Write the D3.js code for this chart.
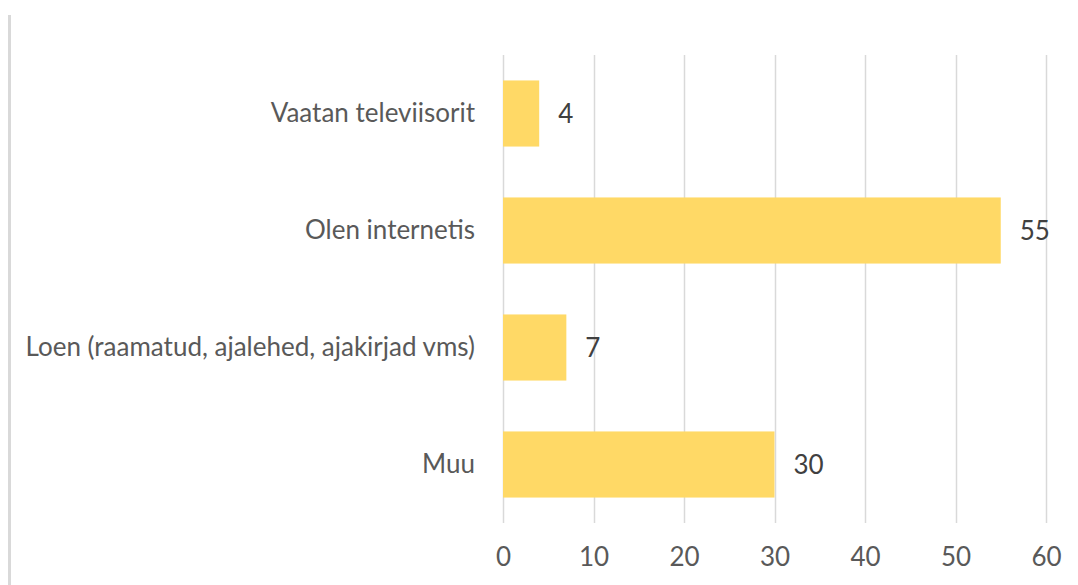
<!DOCTYPE html>
<html>
<head>
<meta charset="utf-8">
<script src="https://cdn.jsdelivr.net/npm/d3@7"></script>
<style>
  body { margin: 0; background: #fff; }
  svg { display: block; font-family: Lato, sans-serif; }
</style>
</head>
<body>
<svg id="chart"></svg>
<script>
const categories = ["Vaatan televiisorit", "Olen internetis", "Loen (raamatud, ajalehed, ajakirjad vms)", "Muu"];
const values = [4, 55, 7, 30];
const xTicks = [0, 10, 20, 30, 40, 50, 60];

const w = 1078, h = 585;
const margin = { top: 55, right: 32, bottom: 62, left: 503 };
const fontSize = "26px";

const svg = d3.select("#chart")
    .attr("width", w)
    .attr("height", h);

// left frame line
svg.append("line")
    .attr("x1", 9.5).attr("x2", 9.5)
    .attr("y1", 15).attr("y2", h)
    .attr("stroke", "#d9d9d9")
    .attr("stroke-width", 3);

const xScale = d3.scaleLinear()
    .domain([0, 60])
    .range([margin.left, w - margin.right]);

const yScale = d3.scaleBand()
    .domain(categories)
    .range([margin.top, h - margin.bottom])
    .paddingInner(0.435)
    .paddingOuter(0.2175);

// gridlines
svg.append("g")
    .selectAll("line")
    .data(xTicks)
    .join("line")
        .attr("x1", d => Math.round(xScale(d)) + 0.5)
        .attr("x2", d => Math.round(xScale(d)) + 0.5)
        .attr("y1", margin.top)
        .attr("y2", h - margin.bottom)
        .attr("stroke", "#d9d9d9")
        .attr("stroke-width", 1.5);

// bars
svg.append("g")
    .selectAll("rect")
    .data(values)
    .join("rect")
        .attr("x", xScale(0))
        .attr("y", (d, i) => yScale(categories[i]))
        .attr("width", d => xScale(d) - xScale(0))
        .attr("height", yScale.bandwidth())
        .attr("fill", "#ffd966");

// value labels
svg.append("g")
    .selectAll("text")
    .data(values)
    .join("text")
        .attr("x", d => xScale(d) + 19)
        .attr("y", (d, i) => yScale(categories[i]) + yScale.bandwidth() / 2)
        .attr("dy", "0.35em")
        .attr("fill", "#404040")
        .style("font-size", fontSize)
        .text(d => d);

// x axis
const xAxis = d3.axisBottom(xScale)
    .tickValues(xTicks)
    .tickSize(0)
    .tickPadding(25);

svg.append("g")
    .attr("transform", `translate(0, ${h - margin.bottom})`)
    .call(xAxis)
    .call(g => g.select(".domain").remove())
    .call(g => g.selectAll("text")
        .attr("fill", "#595959")
        .style("font-size", fontSize)
        .style("font-family", "Lato, sans-serif"));

// y axis
const yAxis = d3.axisLeft(yScale)
    .tickSize(0)
    .tickPadding(28);

svg.append("g")
    .attr("transform", `translate(${margin.left}, 0)`)
    .call(yAxis)
    .call(g => g.select(".domain").remove())
    .call(g => g.selectAll("text")
        .attr("fill", "#595959")
        .style("font-size", fontSize)
        .style("font-family", "Lato, sans-serif"));
</script>
</body>
</html>
